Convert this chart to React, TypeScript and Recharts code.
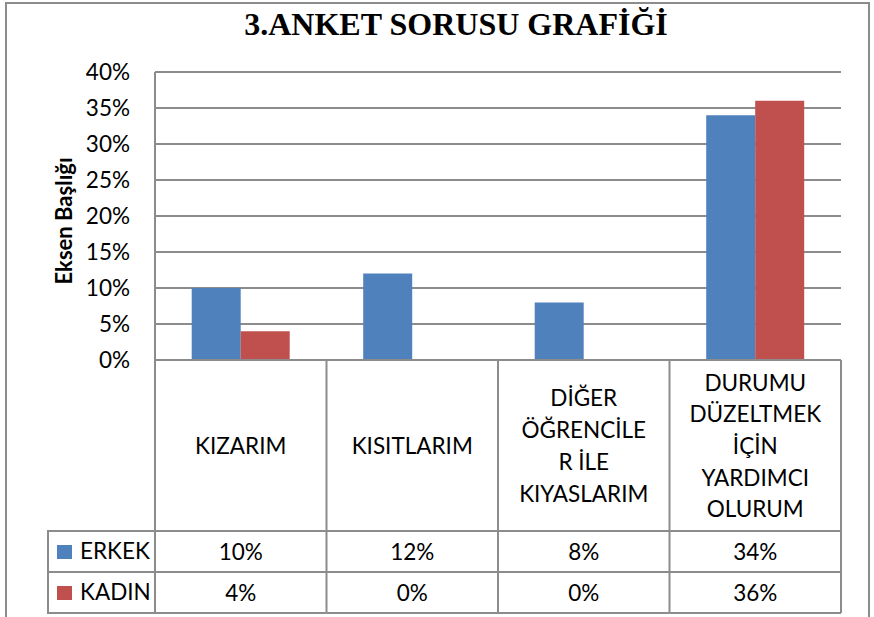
import { BarChart, Bar, XAxis, YAxis, CartesianGrid, Legend } from "recharts";

// Veriler (yüzde)
const CATEGORIES = [
  "KIZARIM",
  "KISITLARIM",
  "DİĞER ÖĞRENCİLER İLE KIYASLARIM",
  "DURUMU DÜZELTMEK İÇİN YARDIMCI OLURUM",
];
const CATEGORY_LINES = [
  ["KIZARIM"],
  ["KISITLARIM"],
  ["DİĞER", "ÖĞRENCİLE", "R İLE", "KIYASLARIM"],
  ["DURUMU", "DÜZELTMEK", "İÇİN", "YARDIMCI", "OLURUM"],
];
const ERKEK = [10, 12, 8, 34];
const KADIN = [4, 0, 0, 36];
const Y_TICKS = [0, 5, 10, 15, 20, 25, 30, 35, 40];

const SERIES = [
  { key: "erkek", name: "ERKEK", values: ERKEK, color: "#4F81BD" },
  { key: "kadin", name: "KADIN", values: KADIN, color: "#C0504D" },
];

const data = CATEGORIES.map((category, i) => ({
  category,
  erkek: ERKEK[i],
  kadin: KADIN[i],
}));

const W = 874;
const H = 617;
const MARGIN = { top: 72, right: 33, left: 0, bottom: 4 };
const Y_AXIS_W = 155;
const X_AXIS_H = 253;
const BAND = (W - MARGIN.left - MARGIN.right - Y_AXIS_W) / CATEGORIES.length;
const HEADER_H = 171;
const ROW_H = 41;
const LINE_H = 31.7;

const FONT = "Lato, 'Open Sans', sans-serif";
const FS = 22.5;
const LINE = "#8c8c8c";
const pct = (v: number) => `${v}%`;

function TableTick(props: any) {
  const { x, y, payload } = props;
  const i = payload?.index ?? props.index ?? 0;
  const left = x - BAND / 2;
  const right = x + BAND / 2;
  const lines = CATEGORY_LINES[i] ?? [String(payload.value)];
  const mid = y + HEADER_H / 2;
  const bottom = y + HEADER_H + ROW_H * SERIES.length;
  return (
    <g>
      {i === 0 && <line x1={left} y1={y} x2={left} y2={bottom} stroke={LINE} strokeWidth={2} />}
      <line x1={right} y1={y} x2={right} y2={bottom} stroke={LINE} strokeWidth={2} />
      {SERIES.map((_, r) => (
        <line
          key={r}
          x1={left}
          x2={right}
          y1={y + HEADER_H + ROW_H * r}
          y2={y + HEADER_H + ROW_H * r}
          stroke={LINE}
          strokeWidth={2}
        />
      ))}
      <line x1={left} x2={right} y1={bottom} y2={bottom} stroke={LINE} strokeWidth={2} />
      {lines.map((t, k) => (
        <text
          key={k}
          x={x}
          y={mid + (k - (lines.length - 1) / 2) * LINE_H}
          textAnchor="middle"
          dominantBaseline="central"
          fontFamily={FONT}
          fontSize={FS}
          fill="#000"
        >
          {t}
        </text>
      ))}
      {SERIES.map((s, r) => (
        <text
          key={s.key}
          x={x}
          y={y + HEADER_H + ROW_H * r + ROW_H / 2}
          textAnchor="middle"
          dominantBaseline="central"
          fontFamily={FONT}
          fontSize={FS}
          fill="#000"
        >
          {pct(s.values[i])}
        </text>
      ))}
    </g>
  );
}

function TableLegend({ payload }: any) {
  const items = payload ?? [];
  return (
    <div style={{ width: 108, fontFamily: FONT, fontSize: FS, color: "#000" }}>
      {items.map((p: any, i: number) => (
        <div
          key={p.value}
          style={{
            boxSizing: "border-box",
            height: i === items.length - 1 ? ROW_H + 2 : ROW_H,
            borderTop: `2px solid ${LINE}`,
            borderLeft: `2px solid ${LINE}`,
            borderBottom: i === items.length - 1 ? `2px solid ${LINE}` : "none",
            display: "flex",
            alignItems: "center",
            paddingLeft: 8,
            lineHeight: 1,
          }}
        >
          <span style={{ width: 15, height: 14, background: p.color, marginRight: 8, display: "inline-block" }} />
          {p.value}
        </div>
      ))}
    </div>
  );
}

const axisTitle = () => {
  const cx = 63;
  const cy = MARGIN.top + (H - MARGIN.top - MARGIN.bottom - X_AXIS_H) / 2 + 5;
  return (
    <text
      x={cx}
      y={cy}
      transform={`rotate(-90 ${cx} ${cy})`}
      textAnchor="middle"
      dominantBaseline="central"
      fontFamily={FONT}
      fontWeight="bold"
      fontSize={22}
      fill="#000"
    >
      Eksen Başlığı
    </text>
  );
};

export default function App() {
  return (
    <div style={{ position: "absolute", left: 0, top: 0, width: W, height: H, overflow: "hidden", background: "#fff" }}>
      <div
        style={{
          position: "absolute",
          left: 5,
          top: 2,
          width: 865,
          height: 700,
          boxSizing: "border-box",
          border: `2px solid ${LINE}`,
        }}
      />
      <div
        style={{
          position: "absolute",
          left: 456,
          top: 8,
          transform: "translateX(-50%)",
          whiteSpace: "nowrap",
          fontFamily: "'Liberation Serif', 'Times New Roman', serif",
          fontWeight: "bold",
          fontSize: 32,
          lineHeight: "32px",
          color: "#000",
        }}
      >
        3.ANKET SORUSU GRAFİĞİ
      </div>
      <div style={{ position: "absolute", left: 0, top: 0 }}>
        <BarChart width={W} height={H} data={data} margin={MARGIN} barCategoryGap="21.4%" barGap={0}>
          <CartesianGrid vertical={false} stroke={LINE} strokeWidth={2} />
          <XAxis
            dataKey="category"
            height={X_AXIS_H}
            interval={0}
            tickSize={0}
            tickMargin={0}
            tickLine={false}
            axisLine={{ stroke: LINE, strokeWidth: 2 }}
            tick={<TableTick />}
          />
          <YAxis
            width={Y_AXIS_W}
            domain={[0, 40]}
            ticks={Y_TICKS}
            tickFormatter={pct}
            tickSize={0}
            tickMargin={25}
            tickLine={false}
            axisLine={{ stroke: LINE, strokeWidth: 2 }}
            tick={{ fontFamily: FONT, fontSize: FS, fill: "#000" }}
            label={axisTitle}
          />
          <Legend
            layout="vertical"
            align="center"
            verticalAlign="middle"
            content={<TableLegend />}
            wrapperStyle={{ left: 47, top: 530, width: 108, height: "auto" }}
          />
          {SERIES.map((s) => (
            <Bar key={s.key} dataKey={s.key} name={s.name} fill={s.color} isAnimationActive={false} />
          ))}
        </BarChart>
      </div>
    </div>
  );
}
